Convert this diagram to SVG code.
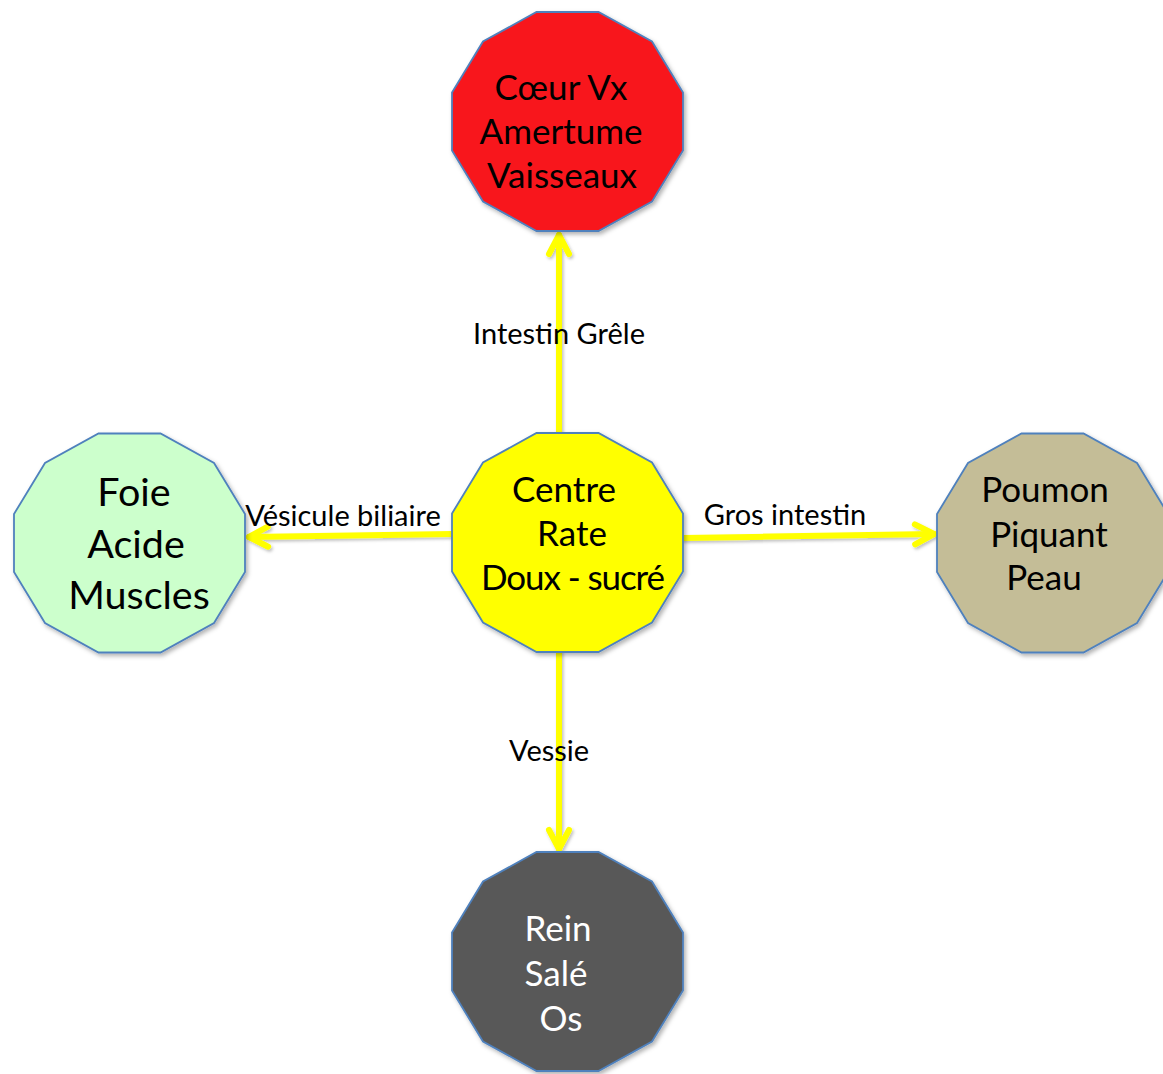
<svg xmlns="http://www.w3.org/2000/svg" width="1163" height="1074" viewBox="0 0 1163 1074">
<style>
.node{stroke:#4F81BD;stroke-width:1.8;filter:url(#sh)}
.nt{font-family:Lato,"Open Sans","Liberation Sans",sans-serif;font-size:35px;text-anchor:middle;fill:#000}
.big{font-size:39.5px}
.wt{fill:#fff}
.lbl{font-family:Lato,"Open Sans","Liberation Sans",sans-serif;font-size:29px;text-anchor:middle;fill:#000}
.edge{stroke:#FFFF00;stroke-width:6;fill:none;stroke-linecap:round;marker-end:url(#arr)}
</style>
<defs>
<filter id="sh" x="-10%" y="-10%" width="125%" height="125%">
<feDropShadow dx="2" dy="2.5" stdDeviation="2" flood-color="#000" flood-opacity="0.3"/>
</filter>
<filter id="sh2" filterUnits="userSpaceOnUse" x="0" y="0" width="1163" height="1074">
<feDropShadow dx="1.5" dy="2" stdDeviation="1.5" flood-color="#000" flood-opacity="0.25"/>
</filter>
<marker id="arr" markerUnits="userSpaceOnUse" viewBox="-30 -20 40 40" markerWidth="40" markerHeight="40" refX="0" refY="0" orient="auto">
<path d="M-19,-10 L0,0 L-19,10" fill="none" stroke="#FFFF00" stroke-width="6" stroke-linecap="round" stroke-linejoin="round"/>
</marker>
<polygon id="dodec" points="-31,-109.5 31,-109.5 84.5,-80 115.5,-29 115.5,29 84.5,80 31,109.5 -31,109.5 -84.5,80 -115.5,29 -115.5,-29 -84.5,-80"/>
</defs>
<rect width="1163" height="1074" fill="#fff"/>
<g id="connectors" filter="url(#sh2)">
<line class="edge" x1="559" y1="433" x2="559" y2="235"/>
<line class="edge" x1="452" y1="534" x2="249" y2="537"/>
<line class="edge" x1="683" y1="538" x2="934" y2="534"/>
<line class="edge" x1="559" y1="652" x2="559" y2="849"/>
</g>
<g id="node-coeur">
<use href="#dodec" class="node" fill="#F8161F" transform="translate(567.5,121.5)"/>
<text class="nt" x="561" y="100">Cœur Vx</text>
<text class="nt" x="561" y="144">Amertume</text>
<text class="nt" x="562" y="188">Vaisseaux</text>
</g>
<g id="node-centre">
<use href="#dodec" class="node" fill="#FFFF00" transform="translate(567.5,542.5)"/>
<text class="nt" x="564" y="502">Centre</text>
<text class="nt" x="572" y="546">Rate</text>
<text class="nt" x="573" y="590" textLength="184">Doux - sucré</text>
</g>
<g id="node-foie">
<use href="#dodec" class="node" fill="#CCFFCC" transform="translate(129.5,543)"/>
<text class="nt big" x="134" y="506">Foie</text>
<text class="nt big" x="136" y="558">Acide</text>
<text class="nt big" x="139" y="609">Muscles</text>
</g>
<g id="node-poumon">
<use href="#dodec" class="node" fill="#C4BD97" transform="translate(1052.5,543)"/>
<text class="nt" x="1045" y="502">Poumon</text>
<text class="nt" x="1049" y="547">Piquant</text>
<text class="nt" x="1044" y="590">Peau</text>
</g>
<g id="node-rein">
<use href="#dodec" class="node" fill="#595959" transform="translate(567.5,961.5)"/>
<text class="nt wt" x="558" y="941">Rein</text>
<text class="nt wt" x="556" y="986">Salé</text>
<text class="nt wt" x="561" y="1031">Os</text>
</g>
<g id="labels">
<text class="lbl" x="559" y="344">Intestin Grêle</text>
<text class="lbl" x="343" y="526">Vésicule biliaire</text>
<text class="lbl" x="785" y="525">Gros intestin</text>
<text class="lbl" x="549" y="761">Vessie</text>
</g>
</svg>
